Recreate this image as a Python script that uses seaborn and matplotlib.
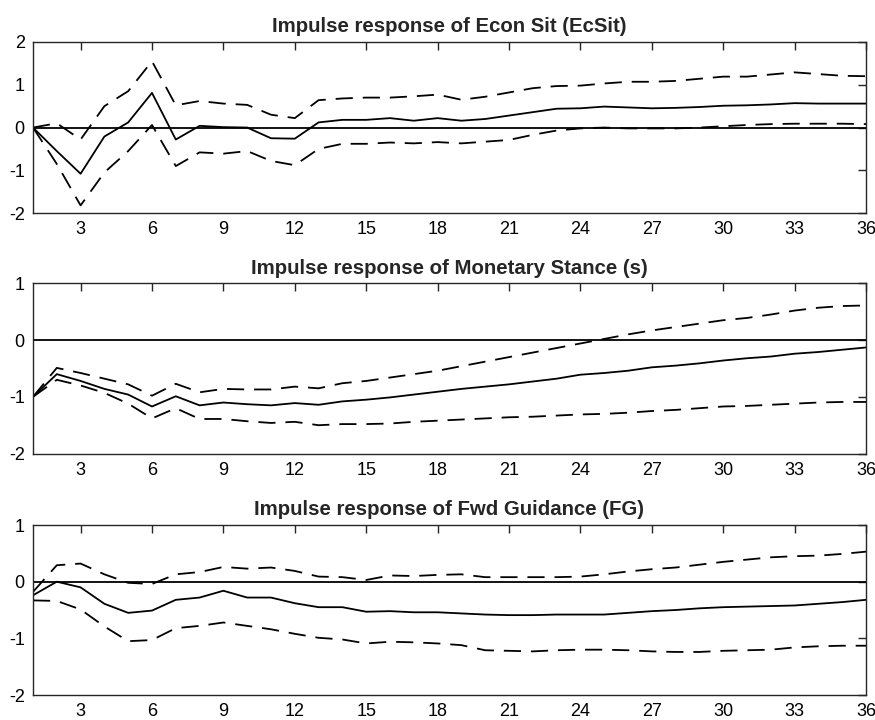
import numpy as np
import pandas as pd
import matplotlib
matplotlib.use("Agg")
import matplotlib.pyplot as plt
import seaborn as sns

steps = list(range(1, 37))

# Econ Sit (EcSit)
ecsit_mid = [0, -0.55, -1.08, -0.21, 0.12, 0.81, -0.28, 0.04, 0.01, 0.0,
             -0.25, -0.26, 0.12, 0.18, 0.18, 0.22, 0.16, 0.22, 0.16, 0.2,
             0.28, 0.36, 0.44, 0.45, 0.49, 0.47, 0.45, 0.46, 0.48, 0.51,
             0.52, 0.54, 0.57, 0.56, 0.56, 0.56]
ecsit_up = [0, 0.1, -0.28, 0.5, 0.85, 1.55, 0.52, 0.62, 0.56, 0.53,
            0.3, 0.22, 0.64, 0.68, 0.7, 0.7, 0.73, 0.77, 0.65, 0.72,
            0.82, 0.92, 0.97, 0.98, 1.03, 1.07, 1.07, 1.09, 1.14, 1.19,
            1.19, 1.24, 1.29, 1.25, 1.21, 1.2]
ecsit_lo = [0, -0.85, -1.82, -1.05, -0.55, 0.06, -0.9, -0.58, -0.61, -0.55,
            -0.78, -0.88, -0.5, -0.38, -0.38, -0.35, -0.37, -0.34, -0.37, -0.33,
            -0.29, -0.17, -0.07, -0.02, 0.0, -0.02, -0.02, -0.02, 0.0, 0.03,
            0.06, 0.08, 0.09, 0.09, 0.09, 0.08]

# Monetary Stance (s)
ms_mid = [-1.0, -0.6, -0.72, -0.86, -0.96, -1.17, -0.99, -1.15, -1.1, -1.13,
          -1.15, -1.11, -1.14, -1.08, -1.05, -1.01, -0.96, -0.91, -0.86, -0.82,
          -0.78, -0.73, -0.68, -0.61, -0.58, -0.54, -0.48, -0.45, -0.41, -0.36,
          -0.32, -0.29, -0.24, -0.21, -0.17, -0.13]
ms_up = [-1.0, -0.49, -0.58, -0.68, -0.78, -0.98, -0.77, -0.92, -0.86, -0.87,
         -0.87, -0.82, -0.85, -0.76, -0.72, -0.66, -0.6, -0.54, -0.46, -0.38,
         -0.3, -0.22, -0.14, -0.06, 0.02, 0.1, 0.17, 0.23, 0.29, 0.35,
         0.39, 0.45, 0.52, 0.57, 0.6, 0.61]
ms_lo = [-1.0, -0.7, -0.8, -0.93, -1.12, -1.38, -1.2, -1.39, -1.39, -1.43,
         -1.46, -1.44, -1.5, -1.48, -1.48, -1.47, -1.44, -1.42, -1.4, -1.38,
         -1.36, -1.35, -1.33, -1.31, -1.3, -1.28, -1.25, -1.23, -1.2, -1.17,
         -1.16, -1.14, -1.12, -1.1, -1.09, -1.09]

# Fwd Guidance (FG)
fg_mid = [-0.24, 0.0, -0.1, -0.39, -0.55, -0.51, -0.32, -0.28, -0.16, -0.28,
          -0.28, -0.38, -0.45, -0.45, -0.53, -0.52, -0.54, -0.54, -0.56, -0.58,
          -0.59, -0.59, -0.58, -0.58, -0.58, -0.55, -0.52, -0.5, -0.47, -0.45,
          -0.44, -0.43, -0.42, -0.39, -0.36, -0.32]
fg_up = [-0.18, 0.29, 0.32, 0.13, -0.02, -0.04, 0.13, 0.17, 0.26, 0.23,
         0.25, 0.19, 0.09, 0.08, 0.03, 0.11, 0.1, 0.12, 0.13, 0.08,
         0.08, 0.08, 0.08, 0.09, 0.13, 0.18, 0.22, 0.25, 0.3, 0.35,
         0.39, 0.43, 0.45, 0.46, 0.49, 0.53]
fg_lo = [-0.33, -0.34, -0.49, -0.79, -1.05, -1.03, -0.82, -0.78, -0.72, -0.78,
         -0.84, -0.92, -0.99, -1.02, -1.09, -1.06, -1.07, -1.09, -1.12, -1.21,
         -1.22, -1.23, -1.21, -1.2, -1.2, -1.21, -1.23, -1.24, -1.24, -1.22,
         -1.21, -1.2, -1.16, -1.14, -1.13, -1.13]

titles = ["Impulse response of Econ Sit (EcSit)",
          "Impulse response of Monetary Stance (s)",
          "Impulse response of Fwd Guidance (FG)"]
series = [(ecsit_mid, ecsit_up, ecsit_lo),
          (ms_mid, ms_up, ms_lo),
          (fg_mid, fg_up, fg_lo)]
ylims = [(-2, 2), (-2, 1), (-2, 1)]
xticks = list(range(3, 37, 3))

sns.set_style("white")
plt.rcParams["font.family"] = ["Liberation Sans", "DejaVu Sans"]
plt.rcParams["axes.unicode_minus"] = False

fig = plt.figure(figsize=(8.75, 7.2), dpi=100)
boxes = [[0.0377, 0.704, 0.952, 0.2377],
         [0.0377, 0.370, 0.952, 0.2365],
         [0.0377, 0.0347, 0.952, 0.2361]]

for box, title, (mid, up, lo), yl in zip(boxes, titles, series, ylims):
    ax = fig.add_axes(box)
    df = pd.DataFrame({
        "step": steps * 3,
        "value": mid + up + lo,
        "band": ["mid"] * 36 + ["up"] * 36 + ["lo"] * 36,
    })
    ax.axhline(0, color="k", lw=1.3, zorder=1)
    sns.lineplot(data=df, x="step", y="value", style="band",
                 dashes={"mid": "", "up": (9.5, 5.5), "lo": (9.5, 5.5)},
                 color="k", lw=1.3, legend=False, ax=ax)
    ax.set_xlim(1, 36)
    ax.set_ylim(*yl)
    ax.set_xticks(xticks)
    ax.set_yticks(range(yl[0], yl[1] + 1))
    ax.set_xlabel("")
    ax.set_ylabel("")
    ax.set_title(title, fontsize=14.7, fontweight="bold", pad=7)
    ax.tick_params(direction="in", length=6, width=1, color="#262626",
                   top=True, right=True, labelsize=13, pad=6,
                   labelcolor="k")
    for sp in ax.spines.values():
        sp.set_visible(True)
        sp.set_color("#262626")
        sp.set_linewidth(1.0)

fig.savefig("out.png", dpi=100)
